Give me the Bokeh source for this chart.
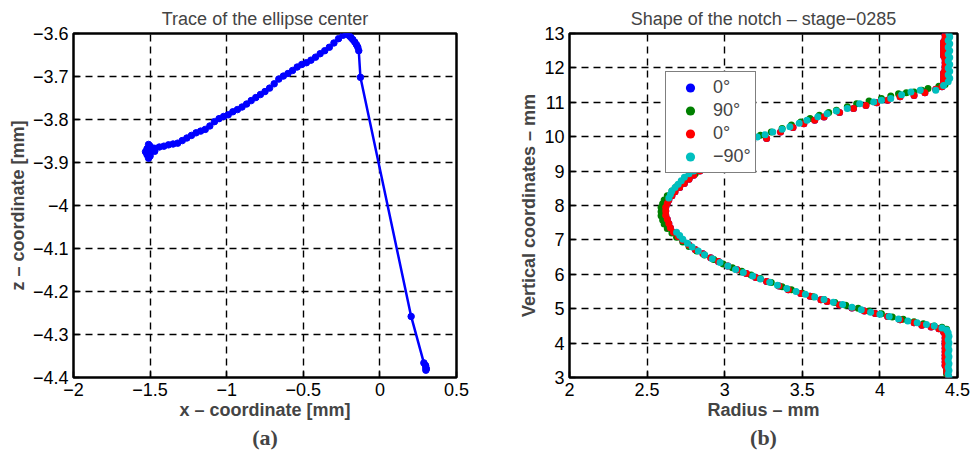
from bokeh.plotting import figure
from bokeh.layouts import row
from bokeh.models import Range1d, FixedTicker, Title, Legend, LegendItem, CustomJSTickFormatter
from bokeh.embed import file_html
from bokeh.resources import INLINE

# ---------------- data: (a) trace of the ellipse centre ----------------
trace_x = [-1.53, -1.51, -1.50, -1.52, -1.49, -1.50, -1.51, -1.48, -1.50, -1.52, -1.49, -1.47, -1.51,
           -1.47, -1.44, -1.41, -1.38, -1.35, -1.32, -1.29, -1.26, -1.23, -1.20, -1.17, -1.14,
           -1.11, -1.08, -1.05, -1.02, -0.99, -0.96, -0.93, -0.90, -0.87, -0.84, -0.81, -0.78,
           -0.75, -0.72, -0.69, -0.66, -0.63, -0.60, -0.57, -0.54, -0.51, -0.48, -0.45, -0.42,
           -0.39, -0.36, -0.33, -0.30, -0.27, -0.24,
           -0.22, -0.214, -0.20, -0.19, -0.177, -0.164, -0.153, -0.144, -0.138,
           -0.127, 0.204, 0.287, 0.298, 0.300, 0.303, 0.300]
trace_z = [-3.875, -3.880, -3.885, -3.868, -3.872, -3.862, -3.890, -3.870, -3.878, -3.882, -3.866, -3.874, -3.858,
           -3.867, -3.864, -3.862, -3.859, -3.857, -3.855, -3.849, -3.843, -3.837, -3.831, -3.827, -3.823,
           -3.815, -3.805, -3.798, -3.793, -3.789, -3.782, -3.777, -3.771, -3.764, -3.756, -3.749, -3.742,
           -3.735, -3.727, -3.717, -3.706, -3.699, -3.693, -3.686, -3.678, -3.672, -3.668, -3.662, -3.655,
           -3.647, -3.640, -3.632, -3.622, -3.612, -3.604,
           -3.600, -3.601, -3.605, -3.609, -3.614, -3.620, -3.626, -3.632, -3.640,
           -3.702, -4.258, -4.366, -4.372, -4.377, -4.380, -4.383]
trace_xticks = [-2, -1.5, -1, -0.5, 0, 0.5]
trace_zticks = [-4.4, -4.3, -4.2, -4.1, -4.0, -3.9, -3.8, -3.7, -3.6]

# ---------------- data: (b) shape of the notch ----------------
red_r = [4.44, 4.43, 4.43, 4.42, 4.42, 4.42, 4.42, 4.42, 4.42, 4.42, 4.42, 4.42, 4.42, 4.41,
         4.38, 4.33, 4.27, 4.22, 4.13, 4.05, 3.97, 3.90, 3.82, 3.74, 3.66, 3.62, 3.55, 3.49, 3.41,
         3.35, 3.27, 3.20, 3.14, 3.08, 3.02, 2.96, 2.91, 2.86, 2.81, 2.77, 2.73, 2.70, 2.67, 2.65,
         2.64, 2.63, 2.62, 2.62, 2.62, 2.63, 2.64, 2.66, 2.68, 2.71, 2.74, 2.77, 2.80, 2.84, 2.88,
         2.94, 3.02, 3.10, 3.18, 3.27, 3.36, 3.44, 3.51, 3.58, 3.64, 3.74, 3.83, 3.91, 3.98, 4.05,
         4.13, 4.22, 4.29, 4.36, 4.40,
         4.41, 4.41, 4.41, 4.41, 4.42, 4.42, 4.42, 4.42, 4.41, 4.41, 4.41, 4.41, 4.41, 4.42, 4.42]
red_z = [3.05, 3.15, 3.25, 3.35, 3.45, 3.55, 3.65, 3.75, 3.85, 3.95, 4.05, 4.15, 4.25, 4.33,
         4.42, 4.47, 4.52, 4.59, 4.68, 4.77, 4.86, 4.93, 5.02, 5.11, 5.21, 5.26, 5.36, 5.44, 5.55,
         5.66, 5.79, 5.91, 6.02, 6.13, 6.24, 6.37, 6.48, 6.60, 6.72, 6.85, 6.98, 7.10, 7.22, 7.35,
         7.48, 7.60, 7.72, 7.84, 7.95, 8.06, 8.16, 8.28, 8.40, 8.52, 8.64, 8.76, 8.88, 9.00, 9.12,
         9.30, 9.50, 9.70, 9.86, 9.95, 10.14, 10.27, 10.38, 10.48, 10.57, 10.70, 10.82, 10.91, 10.99, 11.06,
         11.16, 11.20, 11.28, 11.38, 11.45,
         11.55, 11.65, 11.75, 11.85, 11.95, 12.05, 12.15, 12.25, 12.35, 12.45, 12.55, 12.65, 12.75, 12.85, 12.95]

blue_r = red_r
blue_z = red_z

green_r = [4.43, 4.43, 4.43, 4.43, 4.43, 4.43, 4.43, 4.43, 4.43, 4.43, 4.43, 4.43, 4.43, 4.43,
           4.40, 4.35, 4.28, 4.22, 4.15, 4.08, 4.01, 3.93, 3.86, 3.78, 3.71, 3.64, 3.57, 3.50, 3.43,
           3.37, 3.30, 3.23, 3.17, 3.11, 3.05, 2.99, 2.93, 2.87, 2.82, 2.77, 2.73, 2.69, 2.66, 2.63,
           2.61, 2.60, 2.59, 2.59, 2.59, 2.60, 2.61, 2.63, 2.66, 2.69, 2.73, 2.77, 2.81, 2.86, 2.92,
           2.99, 3.07, 3.15, 3.23, 3.30, 3.37, 3.43, 3.49, 3.55, 3.61, 3.67, 3.72, 3.79, 3.85, 3.93,
           4.01, 4.07, 4.12, 4.17, 4.22, 4.27, 4.31, 4.38, 4.42,
           4.43, 4.43, 4.43, 4.43, 4.43, 4.43, 4.43, 4.43, 4.43, 4.43, 4.43, 4.43, 4.43, 4.43]
green_z = [3.10, 3.20, 3.30, 3.40, 3.50, 3.60, 3.70, 3.80, 3.90, 4.00, 4.10, 4.20, 4.30, 4.40,
           4.46, 4.50, 4.56, 4.62, 4.69, 4.76, 4.85, 4.93, 5.01, 5.10, 5.18, 5.27, 5.35, 5.45, 5.55,
           5.64, 5.76, 5.88, 5.98, 6.09, 6.19, 6.30, 6.43, 6.56, 6.68, 6.81, 6.94, 7.08, 7.20, 7.33,
           7.46, 7.58, 7.70, 7.82, 7.94, 8.05, 8.16, 8.28, 8.42, 8.55, 8.68, 8.80, 8.92, 9.05, 9.22,
           9.42, 9.62, 9.82, 10.04, 10.14, 10.24, 10.34, 10.43, 10.53, 10.62, 10.70, 10.77, 10.87, 10.96, 11.04,
           11.11, 11.18, 11.25, 11.28, 11.30, 11.35, 11.40, 11.47, 11.52,
           11.60, 11.70, 11.80, 11.90, 12.00, 12.10, 12.20, 12.30, 12.40, 12.50, 12.60, 12.70, 12.80, 12.90]

cyan_r = [4.445, 4.44, 4.445, 4.44, 4.445, 4.44, 4.445, 4.44, 4.445, 4.44, 4.445, 4.44, 4.445, 4.44,
          4.43, 4.40, 4.35, 4.30, 4.24, 4.18, 4.12, 4.06, 4.00, 3.94, 3.88, 3.82, 3.76, 3.70, 3.64,
          3.58, 3.52, 3.46, 3.40, 3.34, 3.29, 3.23, 3.18, 3.12, 3.07, 3.02, 2.97, 2.92, 2.87, 2.83,
          2.79, 2.76, 2.73, 2.71, 2.69,
          2.64, 2.65, 2.66, 2.68, 2.70, 2.72, 2.74, 2.77, 2.80, 2.84, 2.92, 3.00, 3.08, 3.15, 3.21,
          3.26, 3.31, 3.37, 3.42, 3.48, 3.53, 3.60, 3.66, 3.72, 3.79, 3.87, 3.96, 4.01, 4.07, 4.14,
          4.20, 4.26, 4.36, 4.41,
          4.44, 4.45, 4.44, 4.45, 4.44, 4.45, 4.44, 4.45, 4.44, 4.45, 4.44, 4.45, 4.44, 4.45, 4.445]
cyan_z = [3.00, 3.10, 3.20, 3.30, 3.40, 3.50, 3.60, 3.70, 3.80, 3.90, 4.00, 4.10, 4.20, 4.30,
          4.38, 4.44, 4.50, 4.54, 4.59, 4.64, 4.70, 4.77, 4.84, 4.90, 4.97, 5.04, 5.12, 5.19, 5.27,
          5.34, 5.42, 5.50, 5.59, 5.68, 5.77, 5.86, 5.95, 6.05, 6.14, 6.24, 6.34, 6.45, 6.57, 6.68,
          6.79, 6.90, 7.02, 7.13, 7.22,
          8.22, 8.32, 8.42, 8.52, 8.62, 8.72, 8.82, 8.92, 9.00, 9.08, 9.28, 9.48, 9.68, 9.86, 9.99,
          10.06, 10.14, 10.22, 10.29, 10.39, 10.48, 10.58, 10.67, 10.75, 10.82, 10.96, 11.01, 11.06, 11.11, 11.22,
          11.30, 11.35, 11.35, 11.49,
          11.60, 11.70, 11.80, 11.90, 12.00, 12.10, 12.20, 12.30, 12.40, 12.50, 12.60, 12.70, 12.80, 12.90, 13.00]

notch_rticks = [2, 2.5, 3, 3.5, 4, 4.5]
notch_zticks = [3, 4, 5, 6, 7, 8, 9, 10, 11, 12, 13]
legend_labels = ["0°", "90°", "0°", "\u221290°"]

SANS = "Liberation Sans"
SERIF = "Liberation Serif"
FMT = "return (tick < 0 ? '\u2212' : '') + Math.abs(tick).toString();"
FS = "18px"


def make_fig(width, left, right, xr, yr, xticks, yticks, title, xlabel, ylabel, tag):
    p = figure(width=width, height=456, output_backend="svg", toolbar_location=None,
               x_range=Range1d(*xr), y_range=Range1d(*yr),
               min_border_left=left, min_border_right=right,
               min_border_top=33, min_border_bottom=79)
    p.title.text = title
    p.title.align = "center"
    p.title.text_font = SANS
    p.title.text_font_size = FS
    p.title.text_font_style = "normal"
    p.title.standoff = 10
    p.outline_line_color = "black"
    p.outline_line_width = 2.5
    p.outline_line_alpha = 1
    p.background_fill_color = "white"
    p.border_fill_color = "white"
    for ax, ticks, lab in ((p.xaxis, xticks, xlabel), (p.yaxis, yticks, ylabel)):
        ax.ticker = FixedTicker(ticks=ticks)
        ax.formatter = CustomJSTickFormatter(code=FMT)
        ax.axis_label = lab
        ax.axis_label_text_font = SANS
        ax.axis_label_text_font_style = "bold"
        ax.axis_label_text_font_size = FS
        ax.major_label_text_font = SANS
        ax.major_label_text_font_size = FS
        ax.major_label_text_color = "black"
        ax.axis_line_color = None
        ax.major_tick_in = 6
        ax.major_tick_out = 0
        ax.major_tick_line_color = "black"
        ax.major_tick_line_width = 1.5
        ax.minor_tick_line_color = None
    p.xaxis.major_label_standoff = 5
    p.xaxis.axis_label_standoff = 1
    p.yaxis.major_label_standoff = 5
    p.yaxis.axis_label_standoff = 2
    for g, ticks in ((p.xgrid, xticks), (p.ygrid, yticks)):
        g.ticker = FixedTicker(ticks=ticks)
        g.grid_line_color = "black"
        g.grid_line_dash = "7 5"
        g.grid_line_width = 1.4
    p.add_layout(Title(text=tag, align="center", text_font=SERIF, text_font_size="22px",
                       text_font_style="bold", standoff=0), "below")
    return p


p1 = make_fig(485, 73, 29, (-2, 0.5), (-4.4, -3.6), trace_xticks, trace_zticks,
              "Trace of the ellipse center", "x \u2013 coordinate [mm]", "z \u2013 coordinate [mm]", "(a)")
p1.line(trace_x, trace_z, line_color="#0000ff", line_width=2.5)
p1.scatter(trace_x, trace_z, size=6.5, fill_color="#0000ff", line_color="#0000ff")

p2 = make_fig(486, 84, 14, (2, 4.5), (3, 13), notch_rticks, notch_zticks,
              "Shape of the notch \u2013 stage\u22120285", "Radius \u2013 mm", "Vertical coordinates \u2013 mm", "(b)")
rb = p2.scatter(blue_r, blue_z, size=7, fill_color="#0000ff", line_color=None)
rg = p2.scatter(green_r, green_z, size=7, fill_color="#008000", line_color=None)
rr = p2.scatter(red_r, red_z, size=7, fill_color="#ff0000", line_color=None)
rc = p2.scatter(cyan_r, cyan_z, size=7, fill_color="#00bfbf", line_color=None)

legend = Legend(items=[LegendItem(label=legend_labels[i], renderers=[r])
                       for i, r in enumerate([rb, rg, rr, rc])],
                location=(96, 204), orientation="vertical",
                label_text_font=SANS, label_text_font_size=FS,
                glyph_width=40, glyph_height=23, label_height=23, label_standoff=3,
                spacing=0, padding=4, margin=0,
                border_line_color="black", border_line_width=1.2,
                background_fill_color="white", background_fill_alpha=1)
p2.add_layout(legend, "center")

layout = row(p1, p2)
open("out.html", "w").write(file_html(layout, INLINE))
